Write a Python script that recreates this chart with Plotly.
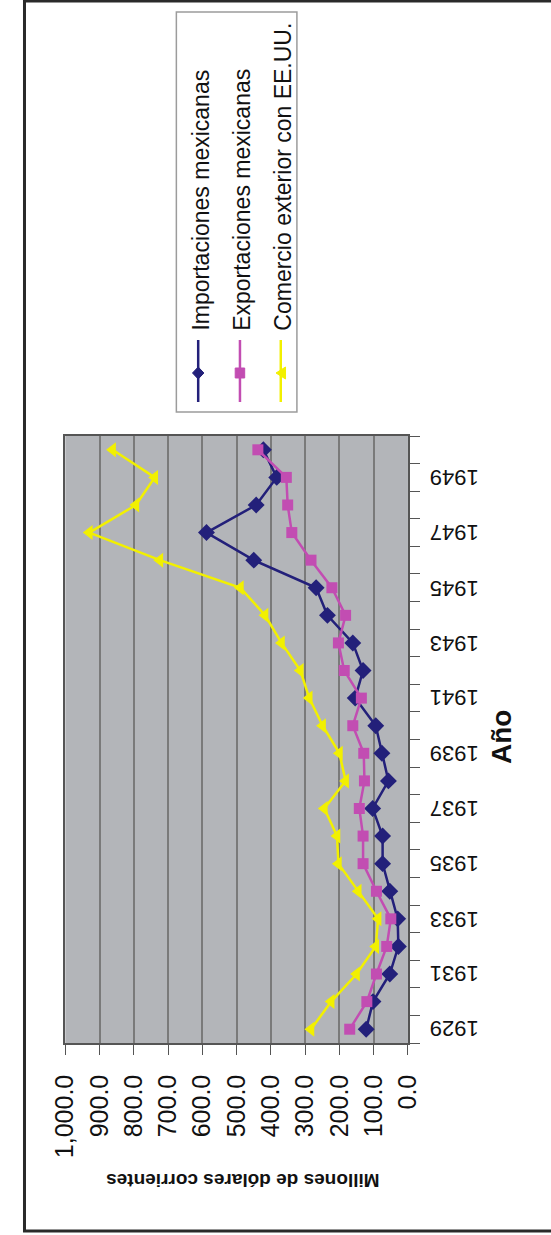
import plotly.graph_objects as go

W, H = 551, 1235

years = list(range(1929, 1951))
importaciones = [122, 102, 53, 28, 30, 53, 74, 74, 103, 57, 76, 94, 154, 131, 161, 235, 268, 450, 588, 443, 383, 422]
exportaciones = [170, 120, 92, 62, 50, 92, 131, 131, 142, 127, 129, 161, 136, 186, 203, 182, 222, 283, 339, 351, 355, 438]
comercio_eeuu = [283, 224, 150, 94, 87, 145, 203, 207, 244, 182, 200, 249, 288, 314, 369, 417, 489, 724, 930, 794, 739, 862]

series_names = ["Importaciones mexicanas", "Exportaciones mexicanas", "Comercio exterior con EE.UU."]
value_ticks = list(range(0, 1001, 100))
value_ticktext = ["{:,.1f}".format(v) for v in value_ticks]
year_ticks = list(range(1929, 1950, 2))

NAVY = "#23207a"
MAGENTA = "#c24db2"
YELLOW = "#f2f000"

FONT = "Liberation Sans, Arial, sans-serif"


def X(px):
    return px / W


def Y(py):
    return 1 - py / H


fig = go.Figure()
fig.add_trace(go.Scatter(x=importaciones, y=years, mode="lines+markers", name=series_names[0],
                         line=dict(color=NAVY, width=2.5),
                         marker=dict(symbol="diamond", size=13, color=NAVY), cliponaxis=False))
fig.add_trace(go.Scatter(x=exportaciones, y=years, mode="lines+markers", name=series_names[1],
                         line=dict(color=MAGENTA, width=2.5),
                         marker=dict(symbol="square", size=11, color=MAGENTA), cliponaxis=False))
fig.add_trace(go.Scatter(x=comercio_eeuu, y=years, mode="lines+markers", name=series_names[2],
                         line=dict(color=YELLOW, width=2.5),
                         marker=dict(symbol="triangle-left", size=13, color=YELLOW), cliponaxis=False))

shapes = []
# outer frame
shapes.append(dict(type="rect", xref="paper", yref="paper", x0=X(10), x1=X(575), y0=Y(1231), y1=Y(1),
                   line=dict(color="#2a2a2a", width=3)))
# legend box
shapes.append(dict(type="rect", xref="paper", yref="paper", x0=X(170), x1=X(297), y0=Y(412), y1=Y(12),
                   line=dict(color="#9c9c9c", width=1.5), fillcolor="white", layer="below"))

leg_x = [193, 237, 280]
leg_cols = [NAVY, MAGENTA, YELLOW]
for lx, col in zip(leg_x, leg_cols):
    shapes.append(dict(type="line", xref="paper", yref="paper", x0=X(lx), x1=X(lx), y0=Y(340), y1=Y(402),
                       line=dict(color=col, width=2.5)))


def path(pts):
    return "M " + " L ".join("{:.5f},{:.5f}".format(X(a), Y(b)) for a, b in pts) + " Z"


cy = 373
shapes.append(dict(type="path", xref="paper", yref="paper",
                   path=path([(193, cy - 6), (199, cy), (193, cy + 6), (187, cy)]),
                   fillcolor=NAVY, line=dict(color=NAVY, width=1)))
shapes.append(dict(type="path", xref="paper", yref="paper",
                   path=path([(232, cy - 5), (242, cy - 5), (242, cy + 5), (232, cy + 5)]),
                   fillcolor=MAGENTA, line=dict(color=MAGENTA, width=1)))
shapes.append(dict(type="path", xref="paper", yref="paper",
                   path=path([(275, cy), (285, cy - 6), (285, cy + 6)]),
                   fillcolor=YELLOW, line=dict(color=YELLOW, width=1)))

annotations = []
for lx, name in zip(leg_x, series_names):
    annotations.append(dict(text=name, xref="paper", yref="paper", x=X(lx + 2), y=Y(333),
                            xanchor="center", yanchor="bottom", textangle=-90, showarrow=False,
                            font=dict(family=FONT, size=23, color="#111")))
# year tick labels (rotated 180 degrees, placed on the year axis)
for yr in year_ticks:
    annotations.append(dict(text=str(yr), xref="paper", yref="y", x=X(435), y=yr,
                            xanchor="left", yanchor="middle", textangle=180, showarrow=False,
                            font=dict(family=FONT, size=22, color="#111")))
annotations.append(dict(text="<b>Millones de dólares corrientes</b>", xref="paper", yref="paper",
                        x=X(240), y=Y(1181), xanchor="center", yanchor="middle", textangle=180,
                        showarrow=False, font=dict(family=FONT, size=19, color="#111")))
annotations.append(dict(text="<b>Año</b>", xref="paper", yref="paper",
                        x=X(512), y=Y(737), xanchor="center", yanchor="middle", textangle=-90,
                        showarrow=False, font=dict(family=FONT, size=28, color="#111")))

fig.update_layout(
    width=W, height=H, autosize=False,
    margin=dict(l=0, r=0, t=0, b=0),
    paper_bgcolor="white", plot_bgcolor="#b3b5b9",
    showlegend=False,
    shapes=shapes, annotations=annotations,
    xaxis=dict(domain=[X(53), X(414)], range=[1000, 0], tickmode="array",
               tickvals=value_ticks, ticktext=value_ticktext, tickangle=-90,
               ticks="outside", ticklen=10, tickcolor="#555", tickwidth=1,
               showgrid=True, gridcolor="#7a7a7a", gridwidth=1.5, zeroline=False,
               showline=True, linecolor="#555", linewidth=1.5, mirror=True,
               ticklabelstandoff=10,
               tickfont=dict(family=FONT, size=25, color="#111")),
    yaxis=dict(domain=[Y(1043), Y(436)], range=[1928.5, 1950.5], side="right",
               tickmode="array", tickvals=year_ticks, showticklabels=False, ticks="",
               showgrid=False, zeroline=False, showline=True, linecolor="#555",
               linewidth=1.5, mirror=True,
               minor=dict(tickmode="array", tickvals=[y - 0.5 for y in years] + [years[-1] + 0.5],
                          ticks="outside", ticklen=10, tickcolor="#555", showgrid=False)),
)

fig.write_html("out.html", config={"displayModeBar": False},
               post_script="document.body.style.margin='0';")
